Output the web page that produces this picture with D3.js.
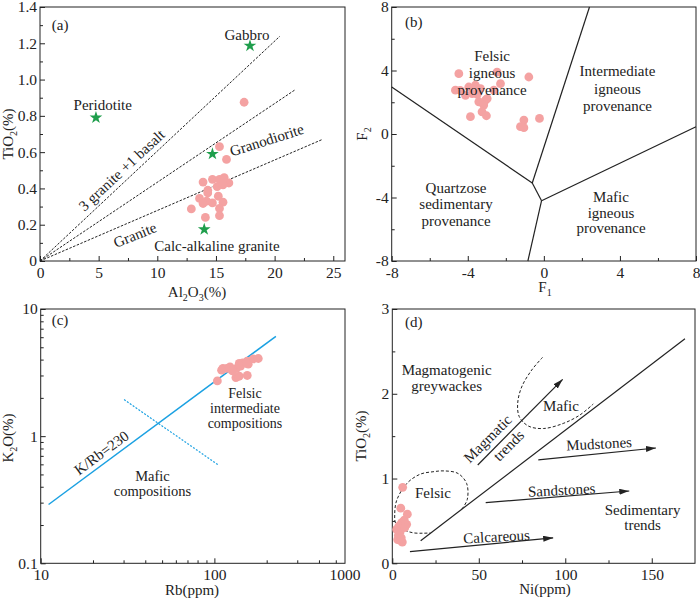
<!DOCTYPE html>
<html>
<head>
<meta charset="utf-8">
<script src="https://cdn.jsdelivr.net/npm/d3@7"></script>
<style>
  body { margin: 0; background: #fff; }
  text { font-family: "Liberation Serif", "Times New Roman", serif; fill: #222; }
</style>
</head>
<body>
<script>
"use strict";

// ---- (a) Al2O3 vs TiO2 ----
const alSample = [17.4, 15.3, 15.9, 13.9, 14.7, 15.3, 15.7, 16.1, 15.1, 15.6, 14.3, 14.3, 13.6, 15.2, 14.2, 13.9, 14.7, 15.6, 15.3, 12.9, 14.1, 15.3];
const tiSample = [0.875, 0.63, 0.56, 0.435, 0.45, 0.45, 0.46, 0.43, 0.41, 0.42, 0.39, 0.375, 0.345, 0.357, 0.33, 0.317, 0.32, 0.324, 0.29, 0.287, 0.24, 0.25];
const rockNames = ["Gabbro", "Peridotite", "Granodiorite", "Calc-alkaline granite"];
const rockAl = [17.9, 4.77, 14.7, 14.0];
const rockTi = [1.186, 0.79, 0.59, 0.174];
const mixEndAl = [20.45, 21.8, 24.0];
const mixEndTi = [1.239, 0.946, 0.668];

// ---- (b) discriminant function F1 vs F2 ----
const f1 = [-4.47, -2.46, -0.79, -2.28, -4.65, -3.95, -3.6, -3.33, -2.63, -4.12, -3.77, -3.42, -3.07, -2.98, -3.16, -3.25, -3.02, -3.86, -1.05, -0.23, -1.23, -1.05, -4.4, -3.5];
const f2 = [3.8, 3.9, 3.59, 3.17, 2.76, 2.96, 3.07, 2.86, 2.76, 2.44, 2.55, 2.03, 2.13, 2.23, 1.82, 1.40, 1.15, 1.09, 0.88, 0.98, 0.46, 0.40, 2.75, 2.5];
const boundF1 = [[-8, -0.61], [-0.61, 2.4], [-0.61, -0.12], [-0.12, 8], [-0.12, -0.84]];
const boundF2 = [[2.96, -3.09], [-3.09, 8], [-3.09, -4.2], [-4.2, 0.46], [-4.2, -8]];

// ---- (c) Rb vs K2O ----
const rb = [104, 112, 118, 123, 128.5, 134, 139, 145.5, 154.6, 156.6, 167.5, 179, 133, 139, 154.6, 110, 127, 141.5, 153.5];
const k2o = [2.72, 3.41, 3.41, 3.51, 3.34, 3.41, 3.73, 3.77, 3.89, 3.68, 4.05, 4.08, 2.89, 2.96, 3.0, 3.30, 3.26, 3.55, 3.73];
const kRbLineRb = [11.1, 226];
const kRbLineK2O = [0.29, 6.1];
const mafLineRb = [30.2, 106];
const mafLineK2O = [1.94, 0.59];

// ---- (d) Ni vs TiO2 ----
const ni = [6.0, 4.9, 8.7, 2.5, 5.4, 8.3, 6.4, 3.5, 4.5, 5.8, 3.1, 6.9, 4.5, 3.8, 5.2, 7.2];
const tiD = [0.896, 0.65, 0.58, 0.40, 0.48, 0.46, 0.43, 0.33, 0.27, 0.25, 0.28, 0.51, 0.37, 0.44, 0.30, 0.42];
const divideNi = [16.4, 169.2];
const divideTi = [0.267, 2.65];
const trendNames = ["magmatic", "mudstones", "sandstones", "calcareous"];
const trendNi = [[49.4, 98.5], [84.4, 152.4], [54, 137], [10.2, 93]];
const trendTi = [[1.16, 2.17], [1.22, 1.36], [0.715, 0.853], [0.137, 0.30]];
const felsicNi = [40.2, 43.3, 43, 38, 30, 23.5, 16, 8.3, 2.5, 1.4, 2, 6.2, 12, 18, 22];
const felsicTi = [0.64, 0.75, 0.94, 1.06, 1.09, 1.08, 1.05, 0.94, 0.74, 0.58, 0.47, 0.40, 0.36, 0.355, 0.358];
const maficNi = [86.9, 80.6, 74.8, 72.5, 73.4, 78.6, 87.3, 98.8, 108.5, 116.2];
const maficTi = [2.43, 2.28, 2.08, 1.89, 1.73, 1.62, 1.59, 1.65, 1.75, 1.88];

const ink = "#222";
const pink = "#f4a2a2";
const green = "#1f9e4c";
const blue = "#1ba1e2";
const serif = "Liberation Serif";

const svg = d3.select("body").append("svg")
  .attr("width", 700)
  .attr("height", 599);

const defs = svg.append("defs");
defs.append("marker")
  .attr("id", "arr")
  .attr("viewBox", "0 0 10 6")
  .attr("refX", 10)
  .attr("refY", 3)
  .attr("markerWidth", 10)
  .attr("markerHeight", 6)
  .attr("markerUnits", "userSpaceOnUse")
  .attr("orient", "auto")
  .append("path")
  .attr("d", "M0,0L10,3L0,6z")
  .attr("fill", ink);

// inward ticks, major + minor, and a closed frame
function drawAxes(x, y, o) {
  const g = svg.append("g");
  const xr = x.range(), yr = y.range();
  g.append("g").attr("transform", `translate(0,${yr[0]})`)
    .call(d3.axisBottom(x).tickValues(o.xMajor).tickSize(-5).tickPadding(6).tickFormat(o.xFmt || (d => String(d))));
  g.append("g").attr("transform", `translate(0,${yr[0]})`)
    .call(d3.axisBottom(x).tickValues(o.xMinor).tickSize(-3).tickFormat(""));
  g.append("g").attr("transform", `translate(${xr[0]},0)`)
    .call(d3.axisLeft(y).tickValues(o.yMajor).tickSize(-5).tickPadding(3).tickFormat(o.yFmt || (d => String(d))));
  g.append("g").attr("transform", `translate(${xr[0]},0)`)
    .call(d3.axisLeft(y).tickValues(o.yMinor).tickSize(-3).tickFormat(""));
  g.selectAll(".domain").remove();
  g.selectAll(".tick line").attr("stroke", ink);
  g.selectAll("g").attr("font-family", serif);
  g.selectAll(".tick text").attr("font-size", 15.5).attr("fill", ink);
  g.append("rect")
    .attr("x", xr[0]).attr("y", yr[1])
    .attr("width", xr[1] - xr[0]).attr("height", yr[0] - yr[1])
    .attr("fill", "none").attr("stroke", ink).attr("stroke-width", 1);
}

// text with subscripts: parts like ["TiO", ["2"], "(%)"]
function richText(px, py, parts, rotate) {
  const t = svg.append("text")
    .attr("text-anchor", "middle")
    .attr("font-family", serif)
    .attr("font-size", 15)
    .attr("transform", `translate(${px},${py})` + (rotate ? ` rotate(${rotate})` : ""));
  let low = false;
  parts.forEach(p => {
    if (Array.isArray(p)) {
      t.append("tspan").attr("font-size", 10).attr("dy", low ? 0 : 4).text(p[0]);
      low = true;
    } else {
      t.append("tspan").attr("dy", low ? -4 : 0).text(p);
      low = false;
    }
  });
  return t;
}

function label(px, py, txt, rotate, opt) {
  opt = opt || {};
  return svg.append("text")
    .attr("transform", `translate(${px},${py})` + (rotate ? ` rotate(${rotate})` : ""))
    .attr("text-anchor", opt.anchor || "middle")
    .attr("dominant-baseline", "central")
    .attr("font-family", serif)
    .attr("font-size", opt.size || 15)
    .text(txt);
}

// ================= (a) =================
const xa = d3.scaleLinear().domain([0, 26]).range([40, 345]);
const ya = d3.scaleLinear().domain([0, 1.4]).range([261, 7]);
drawAxes(xa, ya, {
  xMajor: [0, 5, 10, 15, 20, 25], xMinor: [2.5, 7.5, 12.5, 17.5, 22.5],
  yMajor: d3.range(0, 1.41, 0.2), yMinor: d3.range(0.1, 1.4, 0.2),
  yFmt: d => d === 0 ? "0" : d3.format(".1f")(d)
});
mixEndAl.forEach((v, i) => {
  svg.append("line")
    .attr("x1", xa(0)).attr("y1", ya(0))
    .attr("x2", xa(v)).attr("y2", ya(mixEndTi[i]))
    .attr("stroke", ink).attr("stroke-width", 1).attr("stroke-dasharray", "2.5,1.5");
});
svg.append("g").selectAll("circle").data(alSample).enter().append("circle")
  .attr("cx", d => xa(d))
  .attr("cy", (d, i) => ya(tiSample[i]))
  .attr("r", 4.4)
  .attr("fill", pink);
svg.append("g").selectAll("path").data(rockAl).enter().append("path")
  .attr("d", d3.symbol().type(d3.symbolStar).size(50))
  .attr("transform", (d, i) => `translate(${xa(d)},${ya(rockTi[i])})`)
  .attr("fill", green);
label(xa(1.0), ya(1.3), "(a)", 0, { anchor: "start" });
label(xa(17.64), ya(1.248), rockNames[0]);
label(xa(5.35), ya(0.862), rockNames[1]);
label(xa(19.34), ya(0.666), rockNames[2], -17.6);
label(xa(15.08), ya(0.0825), rockNames[3]);
label(xa(6.97), ya(0.5), "3 granite +1 basalt", -43);
label(xa(8.1), ya(0.143), "Granite", -22);
richText(197, 297, ["Al", ["2"], "O", ["3"], "(%)"]);
richText(13, 134, ["TiO", ["2"], "(%)"], -90);

// ================= (b) =================
const xb = d3.scaleLinear().domain([-8, 8]).range([391.7, 696]);
const yb = d3.scaleLinear().domain([-8, 8]).range([261, 7]);
drawAxes(xb, yb, {
  xMajor: [-8, -4, 0, 4, 8], xMinor: [-6, -2, 2, 6],
  yMajor: [-8, -4, 0, 4, 8], yMinor: [-6, -2, 2, 6]
});
boundF1.forEach((s, i) => {
  svg.append("line")
    .attr("x1", xb(s[0])).attr("y1", yb(boundF2[i][0]))
    .attr("x2", xb(s[1])).attr("y2", yb(boundF2[i][1]))
    .attr("stroke", ink).attr("stroke-width", 1.2);
});
svg.append("g").selectAll("circle").data(f1).enter().append("circle")
  .attr("cx", d => xb(d))
  .attr("cy", (d, i) => yb(f2[i]))
  .attr("r", 4.4)
  .attr("fill", pink);
label(xb(-7.3), yb(7.05), "(b)", 0, { anchor: "start" });
[["Felsic", 4.9], ["igneous", 3.85], ["provenance", 2.8]].forEach(l => label(xb(-2.72), yb(l[1]), l[0]));
[["Intermediate", 3.97], ["igneous", 2.86], ["provenance", 1.75]].forEach(l => label(xb(3.87), yb(l[1]), l[0]));
[["Quartzose", -3.42], ["sedimentary", -4.43], ["provenance", -5.46]].forEach(l => label(xb(-4.62), yb(l[1]), l[0]));
[["Mafic", -3.95], ["igneous", -4.96], ["provenance", -5.9]].forEach(l => label(xb(3.53), yb(l[1]), l[0]));
richText(545, 292, ["F", ["1"]]);
richText(367, 134, ["F", ["2"]], -90);

// ================= (c) =================
const xc = d3.scaleLog().domain([10, Math.pow(10, 2.752)]).range([40.7, 345]);
const yc = d3.scaleLog().domain([0.1, 10]).range([563.3, 309]);
drawAxes(xc, yc, {
  xMajor: [10, 100], xMinor: [20, 30, 40, 50, 60, 70, 80, 90, 200, 300, 400, 500],
  yMajor: [0.1, 1, 10], yMinor: [0.2, 0.3, 0.4, 0.5, 0.6, 0.7, 0.8, 0.9, 2, 3, 4, 5, 6, 7, 8, 9]
});
// the original labels its right edge 1000
svg.append("text")
  .attr("x", xc.range()[1]).attr("y", yc.range()[0] + 6)
  .attr("dy", "0.71em").attr("text-anchor", "middle")
  .attr("font-family", serif)
  .attr("font-size", 15.5).text("1000");
svg.append("line")
  .attr("x1", xc(kRbLineRb[0])).attr("y1", yc(kRbLineK2O[0]))
  .attr("x2", xc(kRbLineRb[1])).attr("y2", yc(kRbLineK2O[1]))
  .attr("stroke", blue).attr("stroke-width", 1.5);
svg.append("line")
  .attr("x1", xc(mafLineRb[0])).attr("y1", yc(mafLineK2O[0]))
  .attr("x2", xc(mafLineRb[1])).attr("y2", yc(mafLineK2O[1]))
  .attr("stroke", blue).attr("stroke-width", 1.2).attr("stroke-dasharray", "2,1.5");
svg.append("g").selectAll("circle").data(rb).enter().append("circle")
  .attr("cx", d => xc(d))
  .attr("cy", (d, i) => yc(k2o[i]))
  .attr("r", 4.4)
  .attr("fill", pink);
label(xc(11.56), yc(8.17), "(c)", 0, { anchor: "start" });
[["Felsic", 2.17], ["intermediate", 1.65], ["compositions", 1.25]].forEach(l => label(xc(150), yc(l[1]), l[0], 0, { size: 14 }));
[["Mafic", 0.49], ["compositions", 0.37]].forEach(l => label(xc(44), yc(l[1]), l[0], 0, { size: 14.5 }));
label(xc(22.4), yc(0.74), "K/Rb=230", -36.5);
richText(192, 595, ["Rb(ppm)"]);
richText(13, 438, ["K", ["2"], "O(%)"], -90);

// ================= (d) =================
const xd = d3.scaleLinear().domain([0, 175]).range([392.3, 695]);
const yd = d3.scaleLinear().domain([0, 3]).range([563.3, 309]);
drawAxes(xd, yd, {
  xMajor: [0, 50, 100, 150], xMinor: [25, 75, 125],
  yMajor: [0, 1, 2, 3], yMinor: [0.5, 1.5, 2.5]
});
svg.append("line")
  .attr("x1", xd(divideNi[0])).attr("y1", yd(divideTi[0]))
  .attr("x2", xd(divideNi[1])).attr("y2", yd(divideTi[1]))
  .attr("stroke", ink).attr("stroke-width", 1.2);
trendNi.forEach((s, i) => {
  svg.append("line")
    .attr("class", trendNames[i])
    .attr("x1", xd(s[0])).attr("y1", yd(trendTi[i][0]))
    .attr("x2", xd(s[1])).attr("y2", yd(trendTi[i][1]))
    .attr("stroke", ink).attr("stroke-width", 1.2)
    .attr("marker-end", "url(#arr)");
});
const curve = d3.line().curve(d3.curveCatmullRom.alpha(0.5));
svg.append("path")
  .attr("d", curve(felsicNi.map((v, i) => [xd(v), yd(felsicTi[i])])))
  .attr("fill", "none").attr("stroke", ink).attr("stroke-width", 1).attr("stroke-dasharray", "3,2");
svg.append("path")
  .attr("d", curve(maficNi.map((v, i) => [xd(v), yd(maficTi[i])])))
  .attr("fill", "none").attr("stroke", ink).attr("stroke-width", 1).attr("stroke-dasharray", "3,2");
svg.append("g").selectAll("circle").data(ni).enter().append("circle")
  .attr("cx", d => xd(d))
  .attr("cy", (d, i) => yd(tiD[i]))
  .attr("r", 4.4)
  .attr("fill", pink);
label(xd(7.3), yd(2.85), "(d)", 0, { anchor: "start" });
label(xd(31.4), yd(2.28), "Magmatogenic");
label(xd(31.4), yd(2.09), "greywackes");
label(xd(97.5), yd(1.85), "Mafic");
label(xd(55.2), yd(1.47), "Magmatic", -45);
label(xd(67.3), yd(1.39), "trends", -45);
label(xd(119.5), yd(1.41), "Mudstones", -3);
label(xd(97.9), yd(0.864), "Sandstones", -3);
label(xd(144.7), yd(0.63), "Sedimentary");
label(xd(144.7), yd(0.455), "trends");
label(xd(23.5), yd(0.825), "Felsic");
label(xd(60.3), yd(0.314), "Calcareous", -3);
richText(545, 594, ["Ni(ppm)"]);
richText(366, 436, ["TiO", ["2"], "(%)"], -90);
</script>
</body>
</html>
